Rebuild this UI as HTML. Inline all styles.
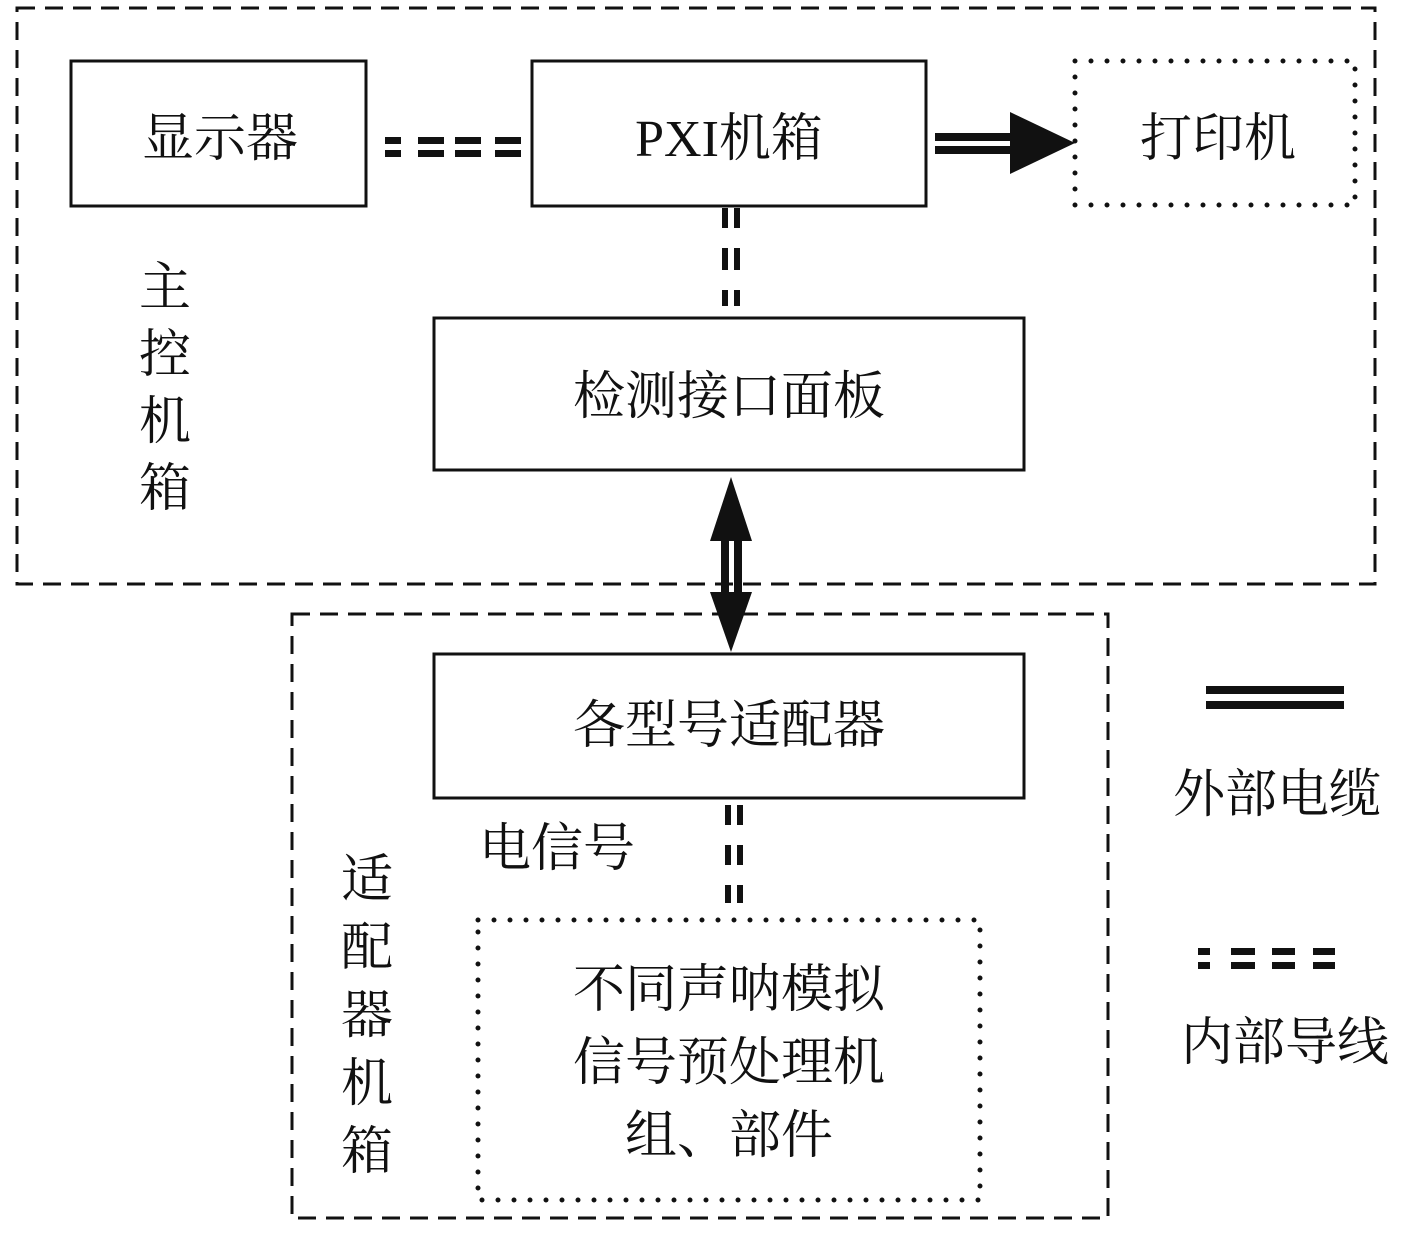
<!DOCTYPE html>
<html><head><meta charset="utf-8"><style>
html,body{margin:0;padding:0;background:#fff;}
svg text{font-family:"Liberation Serif","Noto Serif CJK SC",serif;font-size:52px;fill:#111;}
</style></head><body>
<svg width="1417" height="1228" viewBox="0 0 1417 1228" xmlns="http://www.w3.org/2000/svg">
<g fill="none" stroke="#111">
<rect x="17" y="8" width="1358" height="576" stroke-width="3" stroke-dasharray="18,10"/>
<rect x="292" y="614" width="816" height="604" stroke-width="3" stroke-dasharray="18,10"/>
<rect x="71" y="61" width="295" height="145" stroke-width="3"/>
<rect x="532" y="61" width="394" height="145" stroke-width="3"/>
<rect x="1075" y="61" width="280" height="144" stroke-width="5" stroke-dasharray="0,16" stroke-linecap="round"/>
<rect x="434" y="318" width="590" height="152" stroke-width="3"/>
<rect x="434" y="654" width="590" height="144" stroke-width="3"/>
<rect x="478" y="920" width="502" height="280" stroke-width="5" stroke-dasharray="0,16" stroke-linecap="round"/>
</g>
<g fill="#111">
<!-- horizontal internal wire -->
<rect x="385" y="137" width="16" height="7"/><rect x="385" y="150" width="16" height="7"/>
<rect x="418" y="137" width="26" height="7"/><rect x="418" y="150" width="26" height="7"/>
<rect x="455" y="137" width="26" height="7"/><rect x="455" y="150" width="26" height="7"/>
<rect x="495" y="137" width="26" height="7"/><rect x="495" y="150" width="26" height="7"/>
<!-- vertical PXI to panel -->
<rect x="722" y="208" width="6" height="20"/><rect x="734" y="208" width="6" height="20"/>
<rect x="722" y="248" width="6" height="22"/><rect x="734" y="248" width="6" height="22"/>
<rect x="722" y="290" width="6" height="16"/><rect x="734" y="290" width="6" height="16"/>
<!-- vertical adapter to module -->
<rect x="725" y="805" width="6" height="20"/><rect x="737" y="805" width="6" height="20"/>
<rect x="725" y="845" width="6" height="20"/><rect x="737" y="845" width="6" height="20"/>
<rect x="725" y="885" width="6" height="18"/><rect x="737" y="885" width="6" height="18"/>
<!-- printer arrow -->
<rect x="935" y="133" width="80" height="8"/><rect x="935" y="146" width="80" height="8"/>
<polygon points="1010,112 1075,143 1010,174"/>
<!-- double arrow -->
<rect x="721" y="535" width="8" height="60"/><rect x="734" y="535" width="8" height="60"/>
<polygon points="731,477 752,541 710,541"/>
<polygon points="731,652 752,592 710,592"/>
<!-- legend -->
<rect x="1206" y="686" width="138" height="8"/><rect x="1206" y="701" width="138" height="8"/>
<rect x="1198" y="948" width="12" height="7"/><rect x="1198" y="962" width="12" height="7"/>
<rect x="1231" y="948" width="24" height="7"/><rect x="1231" y="962" width="24" height="7"/>
<rect x="1272" y="948" width="23" height="7"/><rect x="1272" y="962" width="23" height="7"/>
<rect x="1313" y="948" width="22" height="7"/><rect x="1313" y="962" width="22" height="7"/>
</g>
<g text-anchor="middle">
<text x="220" y="156">显示器</text>
<text x="729" y="156">PXI机箱</text>
<text x="1218" y="156">打印机</text>
<text x="729" y="414">检测接口面板</text>
<text x="729" y="743">各型号适配器</text>
<text x="557" y="866">电信号</text>
<text x="729" y="1007">不同声呐模拟</text>
<text x="729" y="1080">信号预处理机</text>
<text x="729" y="1153">组、部件</text>
<text x="1277" y="812">外部电缆</text>
<text x="1285" y="1060">内部导线</text>
<text x="165" y="305">主</text>
<text x="165" y="372">控</text>
<text x="165" y="439">机</text>
<text x="165" y="506">箱</text>
<text x="367" y="897">适</text>
<text x="367" y="965">配</text>
<text x="367" y="1033">器</text>
<text x="367" y="1101">机</text>
<text x="367" y="1169">箱</text>
</g>
</svg>
</body></html>
